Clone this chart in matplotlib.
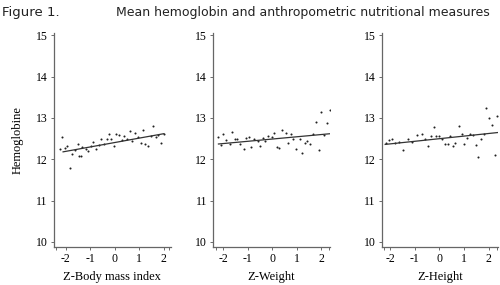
import matplotlib.pyplot as plt

# Z-Body mass index panel
bmi_x = [-2.16, -2.24, -2.02, -1.94, -1.81, -1.72, -1.61, -1.51, -1.47, -1.39,
         -1.33, -1.17, -1.08, -0.95, -0.87, -0.78, -0.65, -0.55, -0.44, -0.33,
         -0.25, -0.16, -0.03, 0.07, 0.19, 0.29, 0.38, 0.49, 0.62, 0.70,
         0.82, 0.94, 1.07, 1.15, 1.25, 1.36, 1.46, 1.55, 1.69, 1.77, 1.90, 1.99]
bmi_y = [12.53, 12.24, 12.28, 12.32, 11.79, 12.12, 12.22, 12.36, 12.08, 12.08,
         12.30, 12.26, 12.20, 12.32, 12.42, 12.26, 12.34, 12.49, 12.36, 12.50,
         12.61, 12.49, 12.32, 12.62, 12.58, 12.46, 12.56, 12.48, 12.68, 12.44,
         12.64, 12.54, 12.40, 12.70, 12.36, 12.33, 12.56, 12.81, 12.53, 12.58, 12.40, 12.61]
bmi_fit_x = [-2.1, 2.0]
bmi_fit_y = [12.18, 12.62]

# Z-Weight panel
wt_x = [-2.23, -2.11, -2.01, -1.89, -1.74, -1.66, -1.52, -1.44, -1.32, -1.17,
        -1.08, -0.97, -0.87, -0.74, -0.60, -0.51, -0.39, -0.30, -0.17, -0.03,
        0.06, 0.17, 0.26, 0.41, 0.54, 0.63, 0.75, 0.85, 0.98, 1.11,
        1.19, 1.32, 1.41, 1.55, 1.67, 1.76, 1.89, 2.00, 2.11, 2.24, 2.34]
wt_y = [12.54, 12.34, 12.61, 12.46, 12.38, 12.66, 12.50, 12.50, 12.36, 12.26,
        12.52, 12.53, 12.30, 12.48, 12.44, 12.32, 12.52, 12.44, 12.56, 12.54,
        12.64, 12.30, 12.27, 12.70, 12.64, 12.40, 12.61, 12.48, 12.24, 12.48,
        12.15, 12.40, 12.44, 12.36, 12.62, 12.90, 12.22, 13.15, 12.58, 12.88, 13.19]
wt_fit_x = [-2.2, 2.37]
wt_fit_y = [12.37, 12.62]

# Z-Height panel
ht_x = [-2.17, -2.04, -1.91, -1.80, -1.64, -1.49, -1.28, -1.12, -0.92, -0.72,
        -0.59, -0.48, -0.36, -0.23, -0.13, 0.00, 0.09, 0.22, 0.33, 0.42,
        0.56, 0.65, 0.79, 0.90, 1.00, 1.12, 1.23, 1.34, 1.47, 1.57,
        1.70, 1.80, 1.88, 2.01, 2.11, 2.24, 2.34]
ht_y = [12.40, 12.46, 12.48, 12.40, 12.42, 12.23, 12.48, 12.41, 12.58, 12.61,
        12.50, 12.32, 12.57, 12.78, 12.56, 12.56, 12.48, 12.36, 12.36, 12.56,
        12.32, 12.40, 12.80, 12.62, 12.36, 12.52, 12.61, 12.58, 12.34, 12.06,
        12.49, 12.62, 13.23, 13.00, 12.82, 12.10, 13.04]
ht_fit_x = [-2.2, 2.4]
ht_fit_y = [12.36, 12.65]

panels = [
    ("Z-Body mass index", bmi_x, bmi_y, bmi_fit_x, bmi_fit_y, (-2.47, 2.27), 0.108),
    ("Z-Weight", wt_x, wt_y, wt_fit_x, wt_fit_y, (-2.41, 2.34), 0.4266),
    ("Z-Height", ht_x, ht_y, ht_fit_x, ht_fit_y, (-2.34, 2.38), 0.7634),
]
x_ticks = [-2, -1, 0, 1, 2]
y_ticks = [10, 11, 12, 13, 14, 15]

serif = "Liberation Serif"
fig = plt.figure(figsize=(5, 2.85), dpi=100)

for i, (label, xs, ys, fx, fy, xlim, left) in enumerate(panels):
    ax = fig.add_axes([left, 0.134, 0.233, 0.749])
    ax.scatter(xs, ys, s=2.2, color="#222222", linewidths=0)
    ax.plot(fx, fy, color="#333333", linewidth=0.9)
    ax.set_xlim(xlim)
    ax.set_ylim(9.88, 15.05)
    ax.set_xticks(x_ticks)
    ax.set_xticklabels(["-2", "-1", "0", "1", "2"], fontfamily=serif, fontsize=8.5)
    ax.set_yticks(y_ticks)
    ax.set_yticklabels([str(v) for v in y_ticks], fontfamily=serif, fontsize=8.5)
    ax.set_xticks([xlim[0] + 0.1, xlim[1] - 0.05], minor=True)
    ax.tick_params(which="both", direction="out", length=2.5, width=0.6,
                   color="#555555", pad=2)
    for side in ["top", "right"]:
        ax.spines[side].set_visible(False)
    for side in ["left", "bottom"]:
        ax.spines[side].set_color("#666666")
        ax.spines[side].set_linewidth(0.9)
    ax.set_xlabel(label, fontfamily=serif, fontsize=9, labelpad=4)
    if i == 0:
        ax.set_ylabel("Hemoglobine", fontfamily=serif, fontsize=9, labelpad=9)

fig.text(0.004, 0.955, "Figure 1.", fontsize=9.5, fontfamily="DejaVu Sans",
         va="center", ha="left", color="#222222")
fig.text(0.98, 0.955, "Mean hemoglobin and anthropometric nutritional measures",
         fontsize=9, fontfamily="DejaVu Sans", va="center", ha="right", color="#222222")

fig.savefig("out.png", dpi=100)
